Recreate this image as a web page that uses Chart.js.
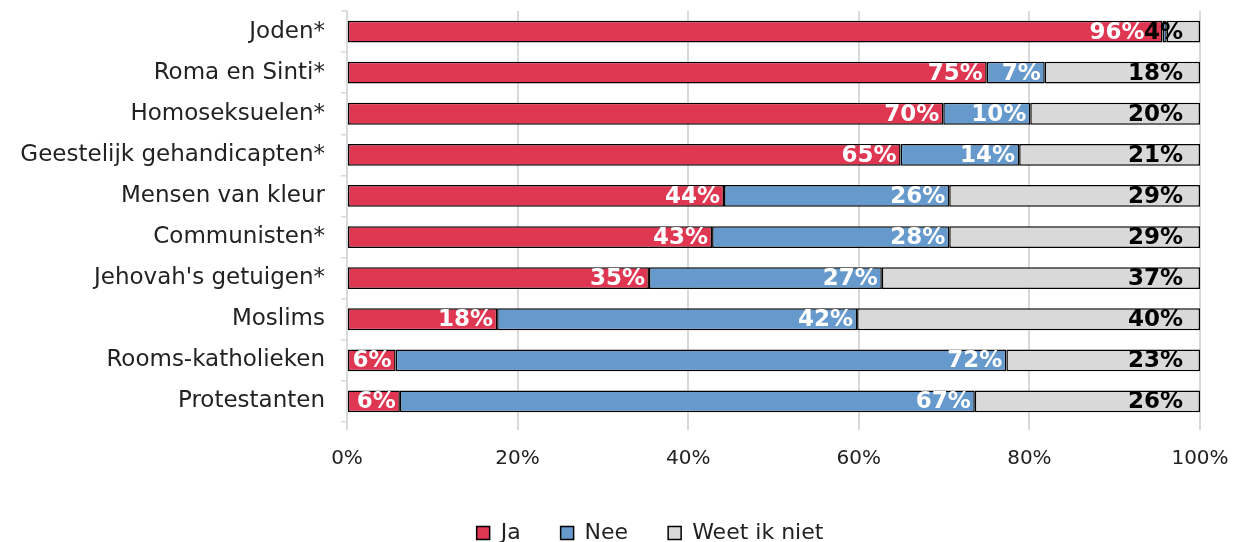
<!DOCTYPE html>
<html>
<head>
<meta charset="utf-8">
<script src="https://cdn.jsdelivr.net/npm/chart.js@4"></script>
<style>
html,body{margin:0;padding:0;background:#fff;}
#wrap{width:1233px;height:542px;position:relative;}
</style>
</head>
<body>
<div id="wrap"><canvas id="c"></canvas></div>
<script>
const categories = ["Joden*","Roma en Sinti*","Homoseksuelen*","Geestelijk gehandicapten*","Mensen van kleur","Communisten*","Jehovah's getuigen*","Moslims","Rooms-katholieken","Protestanten"];
const seriesNames = ["Ja","Nee","Weet ik niet"];
const ja   = [95.6, 75.0, 69.9, 64.9, 44.2, 42.8, 35.4, 17.6, 5.7, 6.2];
const nee  = [0.5, 6.8, 10.2, 13.9, 26.4, 27.8, 27.3, 42.2, 71.6, 67.4];
const weet = [3.9, 18.2, 19.9, 21.2, 29.4, 29.4, 37.3, 40.2, 22.7, 26.4];
const xTicks = [0, 20, 40, 60, 80, 100];

const colors = ['#df3651', '#6699cc', '#d9d9d9'];
const labelColors = ['#ffffff', '#ffffff', '#000000'];
const labelOffsets = [4, 4, 17];
const FONT = "'DejaVu Sans', sans-serif";

const labelPlugin = {
  id: 'inlabels',
  afterLayout(chart) {
    const lg = chart.legend;
    if (lg) { lg.left += 50; lg.right += 50; }
  },
  afterDatasetsDraw(chart) {
    const ctx = chart.ctx;
    ctx.save();
    ctx.font = "bold 23px " + FONT;
    ctx.textAlign = 'right';
    ctx.textBaseline = 'middle';
    chart.data.datasets.forEach((ds, di) => {
      const meta = chart.getDatasetMeta(di);
      meta.data.forEach((el, i) => {
        const v = ds.data[i];
        if (v < 2) return;
        let off = labelOffsets[di];
        // in the reference the first label is nudged left to clear the thin slice
        if (di === 0 && i === 0) off = 18;
        ctx.fillStyle = labelColors[di];
        ctx.fillText(Math.round(v) + '%', el.x - off, el.y + 1);
      });
    });
    ctx.restore();
  }
};

new Chart(document.getElementById('c'), {
  type: 'bar',
  data: {
    labels: categories,
    datasets: [ja, nee, weet].map((d, i) => ({
      label: seriesNames[i],
      data: d,
      backgroundColor: colors[i],
      borderColor: '#000',
      borderWidth: 1.5,
      borderSkipped: false,
      categoryPercentage: 1.0,
      barPercentage: 0.53
    }))
  },
  options: {
    indexAxis: 'y',
    responsive: true,
    maintainAspectRatio: false,
    animation: false,
    layout: { padding: { top: 11, right: 33, left: 0, bottom: -12 } },
    plugins: {
      legend: {
        position: 'bottom',
        labels: {
          font: { family: FONT, size: 22 },
          color: '#222',
          boxWidth: 13,
          boxHeight: 13,
          padding: 40
        }
      },
      tooltip: { enabled: false }
    },
    scales: {
      x: {
        stacked: true,
        min: 0, max: 100,
        afterBuildTicks(scale) { scale.ticks = xTicks.map(v => ({ value: v })); },
        ticks: {
          callback: v => v + '%',
          font: { family: FONT, size: 20 },
          color: '#222',
          padding: 17,
          maxRotation: 0
        },
        grid: { color: '#d9d9d9', lineWidth: 2, tickLength: 8 },
        border: { display: false },
        afterFit(scale) { scale.height = 60; scale.paddingLeft = 0; scale.paddingRight = 0; }
      },
      y: {
        stacked: true,
        ticks: {
          font: { family: FONT, size: 23 },
          color: '#222',
          padding: 16
        },
        grid: { drawOnChartArea: false, drawTicks: true, tickLength: 6, color: '#d9d9d9', lineWidth: 1.5 },
        border: { display: true, color: '#d9d9d9', width: 1.5 },
        afterFit(scale) { scale.width = 347; scale.paddingTop = 0; scale.paddingBottom = 0; }
      }
    }
  },
  plugins: [labelPlugin]
});
</script>
</body>
</html>
